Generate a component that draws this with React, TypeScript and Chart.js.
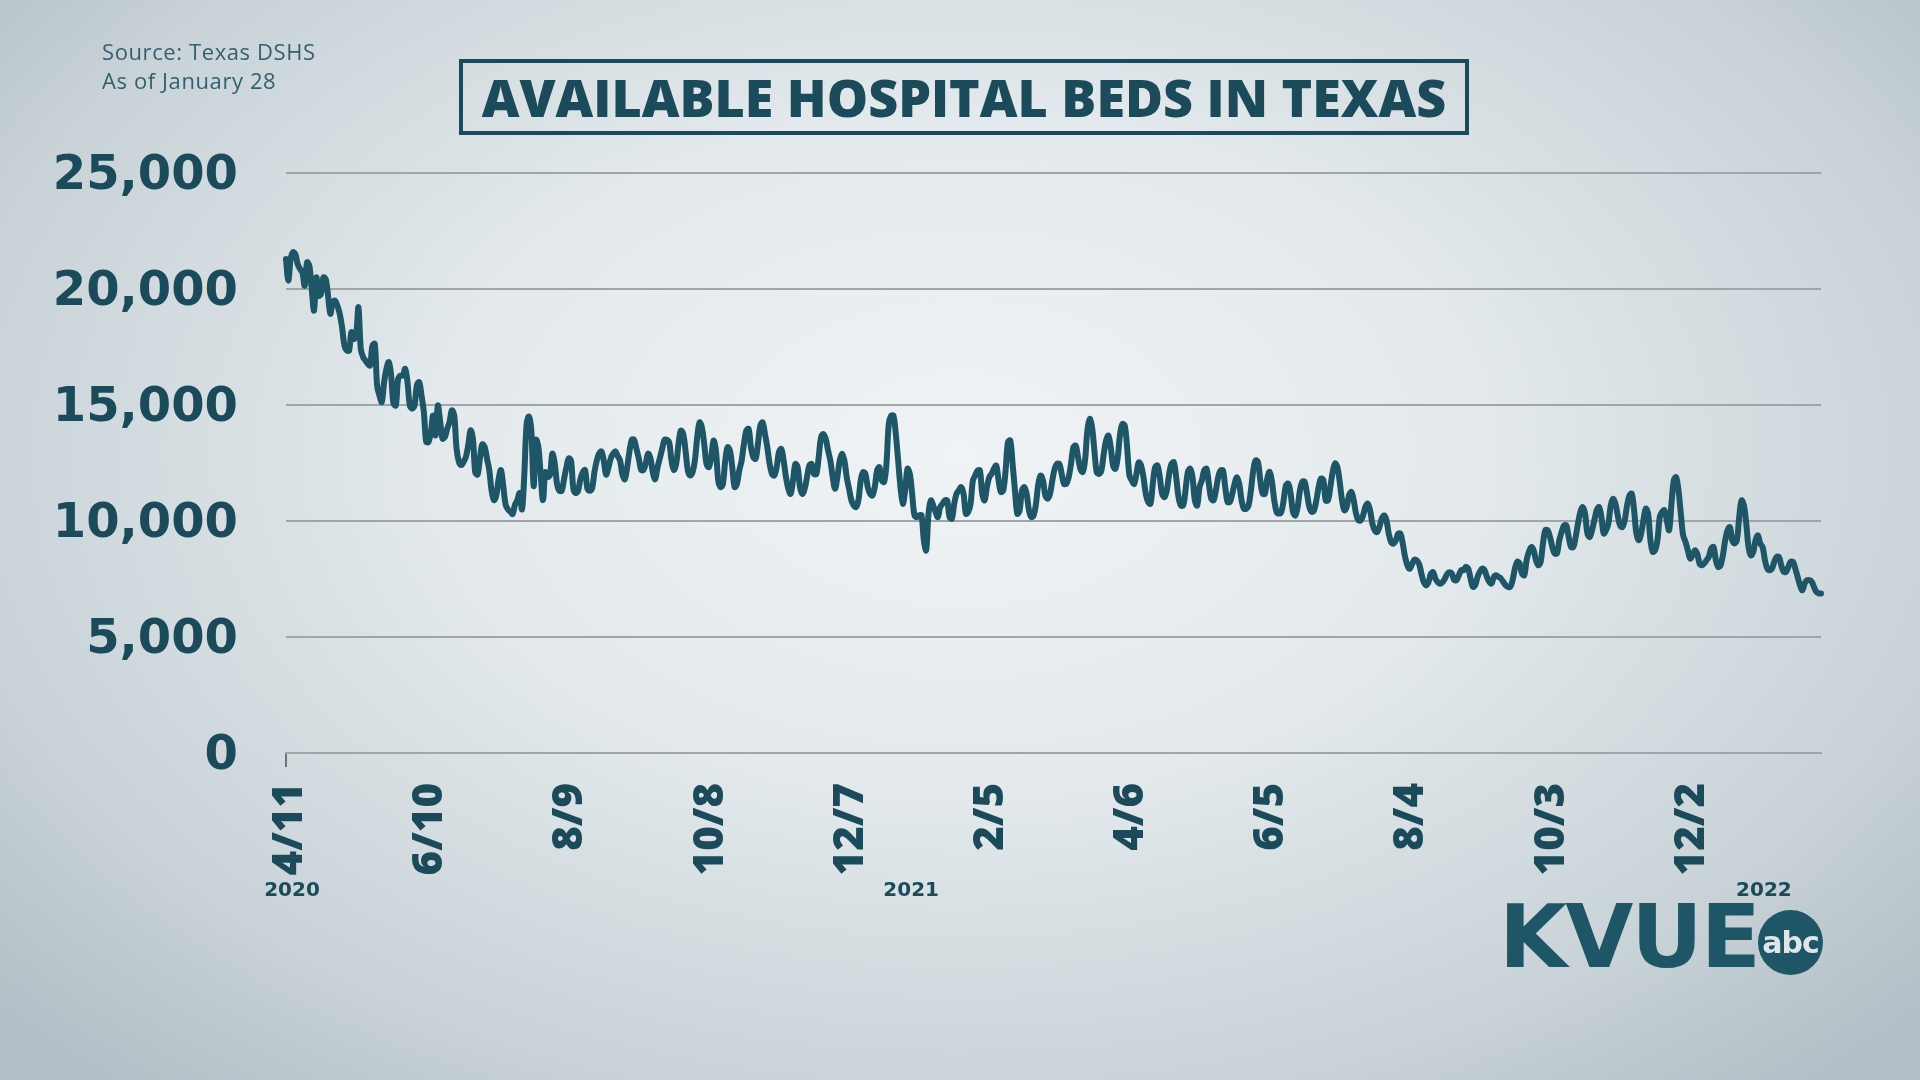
import React, { useEffect, useRef } from 'react';
import { Chart, registerables } from 'chart.js';

Chart.register(...registerables);

// Available hospital beds in Texas, daily from 4/11/2020 to 1/28/2022
const START_YEAR = 2020;
const START_MONTH = 3; // April (0-based)
const START_DAY = 11;

const BEDS_2020 = [
  21290, 20360, 21290, 21580, 21500, 21070, 20860, 20720, 20140, 21150,
  21000, 20000, 19070, 20500, 19710, 19790, 20500, 20430, 19710, 18930,
  19430, 19500, 19280, 18930, 18350, 17560, 17350, 17350, 18140, 17850,
  17990, 19210, 17420, 17060, 16920, 16780, 16700, 17560, 17640, 15840,
  15410, 15130, 15990, 16560, 16850, 16270, 15060, 14980, 16130, 16270,
  16270, 16560, 15990, 14980, 14840, 14980, 15840, 15990, 15410, 14700,
  13410, 13410, 13840, 14550, 13690, 14980, 14270, 13550, 13620, 13980,
  14270, 14770, 14550, 13120, 12550, 12410, 12550, 12760, 13270, 13910,
  13550, 12100, 12000, 12700, 13300, 13200, 12700, 12200, 11300, 10900,
  11100, 11800, 12200, 11500, 10700, 10500, 10400, 10300, 10700, 10900,
  11200, 10500, 12000, 14200, 14500, 13900, 11500, 13500, 13200, 12000,
  10900, 12100, 11900, 12000, 12900, 12500, 11600, 11300, 11300, 11800,
  12300, 12700, 12600, 11400, 11200, 11300, 11800, 12100, 12200, 11400,
  11300, 11400, 12100, 12600, 12900, 13000, 12600, 12000, 12300, 12700,
  12900, 13000, 12800, 12600, 12000, 11800, 12300, 13000, 13500, 13500,
  13100, 12700, 12200, 12200, 12500, 12900, 12700, 12100, 11800, 12300,
  12700, 13100, 13500, 13500, 13400, 12600, 12200, 12460, 13320, 13900,
  13750, 13040, 12180, 11960, 12100, 12600, 13600, 14250, 14040, 13320,
  12460, 12320, 12750, 13470, 13040, 11750, 11460, 11600, 12600, 13180,
  13040, 12320, 11460, 11600, 12180, 12600, 13320, 13900, 13970, 13180,
  12750, 12680, 13320, 14110, 14250, 13750, 13180, 12460, 12030, 11960,
  12320, 12970, 13110, 12600, 11890, 11390, 11170, 11750, 12460, 12320,
  11460, 11170, 11390, 11890, 12390, 12460, 12030, 12030, 12750, 13610,
  13750, 13540, 13040, 12600, 11890, 11390, 11890, 12600, 12900, 12600,
  11890, 11390, 10890, 10670, 10600, 10890, 11750, 12100, 12030, 11460,
  11170, 11100, 11460, 12180, 12320, 11750, 11680, 12460, 14180, 14540,
  14540, 13750, 12610, 11460, 10740,
];

const BEDS_2021 = [
  11320, 12250, 12030, 11170, 10240,
  10170, 10240, 10240, 9170, 8740, 10310, 10890, 10670, 10390, 10170,
  10600, 10740, 10890, 10890, 10170, 10100, 10740, 11170, 11320, 11460,
  11170, 10310, 10390, 10740, 11750, 11960, 12180, 12180, 11170, 10890,
  11460, 11890, 12030, 12250, 12390, 11750, 11250, 11320, 12180, 13400,
  13470, 12460, 11320, 10310, 10460, 11320, 11460, 11170, 10460, 10170,
  10240, 10740, 11600, 11960, 11750, 11100, 10960, 11170, 11750, 12250,
  12460, 12460, 12030, 11600, 11600, 11890, 12460, 13180, 13250, 12750,
  12250, 12110, 12610, 13900, 14400, 14040, 13040, 12110, 12030, 12180,
  12890, 13470, 13680, 13180, 12390, 12250, 12750, 13750, 14180, 14110,
  13180, 11960, 11750, 11600, 12030, 12530, 12390, 11890, 11170, 10820,
  10740, 11600, 12320, 12390, 11890, 11170, 11030, 11320, 12030, 12460,
  12530, 11890, 11030, 10670, 10670, 11320, 12110, 12250, 11890, 10890,
  10670, 11460, 11750, 12180, 12250, 11600, 10960, 10890, 11320, 11890,
  12180, 12180, 11460, 10820, 10820, 11170, 11600, 11890, 11600, 10890,
  10530, 10530, 10670, 11320, 12180, 12610, 12550, 11760, 11180, 11180,
  11830, 12120, 11690, 10890, 10390, 10320, 10390, 10890, 11540, 11610,
  11180, 10390, 10240, 10610, 11330, 11690, 11690, 11180, 10610, 10390,
  10460, 10890, 11470, 11830, 11760, 10890, 10890, 11470, 12120, 12480,
  12330, 11690, 10890, 10460, 10610, 11110, 11250, 10890, 10320, 10030,
  10030, 10240, 10610, 10750, 10460, 9880, 9600, 9520, 9740, 10100,
  10240, 10030, 9450, 9090, 9020, 9160, 9450, 9450, 9020, 8440,
  8080, 7940, 8150, 8330, 8300, 8150, 7720, 7360, 7220, 7360,
  7720, 7790, 7510, 7360, 7290, 7360, 7510, 7720, 7790, 7740,
  7450, 7450, 7660, 7880, 7880, 8020, 7950, 7520, 7160, 7230,
  7590, 7810, 7950, 7880, 7590, 7380, 7310, 7590, 7660, 7590,
  7520, 7380, 7230, 7160, 7160, 7450, 7950, 8240, 8170, 7740,
  7660, 8310, 8670, 8880, 8740, 8310, 8090, 8240, 9030, 9600,
  9600, 9310, 8880, 8600, 8600, 9170, 9530, 9810, 9810, 9310,
  8880, 8880, 9310, 9890, 10390, 10600, 10320, 9460, 9310, 9600,
  10030, 10460, 10600, 10170, 9460, 9600, 9890, 10670, 10960, 10750,
  10240, 9810, 9740, 10030, 10670, 11100, 11180, 10460, 9460, 9170,
  9460, 10030, 10530, 10320, 9170, 8670, 8740, 9170, 10170, 10390,
  10460, 10030, 9600, 10750, 11750, 11890, 11320, 10320, 9380, 9100,
  8740, 8380, 8520, 8740, 8600, 8170, 8090, 8170, 8310, 8450,
  8810, 8880, 8310, 8020, 8090, 8520, 9170, 9600, 9740, 9170,
  9030, 9170, 10170, 10890, 10670, 9890, 8880, 8520, 8670, 9170,
];

const BEDS_2022 = [
  9380, 9030, 8880, 8310, 7950, 7880, 7950, 8240, 8450, 8450,
  8090, 7810, 7810, 8020, 8240, 8240, 7950, 7590, 7230, 7020,
  7310, 7450, 7450, 7380, 7160, 6950, 6880, 6880,
];

const TICK_LABELS = ['4/11', '6/10', '8/9', '10/8', '12/7', '2/5', '4/6', '6/5', '8/4', '10/3', '12/2'];
const TICK_EVERY = 60;
const YEAR_LABELS = ['2020', '2021', '2022'];
const Y_MIN = 0;
const Y_MAX = 25000;
const Y_STEP = 5000;

const TITLE = 'AVAILABLE HOSPITAL BEDS IN TEXAS';
const SOURCE_LINES = ['Source: Texas DSHS', 'As of January 28'];

const BEDS = [...BEDS_2020, ...BEDS_2021, ...BEDS_2022];
const DATES = BEDS.map((_, i) => {
  const dt = new Date(Date.UTC(START_YEAR, START_MONTH, START_DAY + i));
  return `${dt.getUTCMonth() + 1}/${dt.getUTCDate()}`;
});
const YEAR_INDEX = [0, ...DATES.map((l, i) => (l === '1/1' ? i : -1)).filter((i) => i >= 0)];

const TEAL = '#1b4b5b';
const LINE = '#1e5567';
const GRID = '#a0a5a9';

const yearLabelPlugin = {
  id: 'yearLabels',
  afterDraw(chart: any) {
    const { ctx, scales, chartArea } = chart;
    const xs = scales.x;
    ctx.save();
    ctx.fillStyle = TEAL;
    ctx.font = 'bold 20px "DejaVu Sans", sans-serif';
    ctx.textAlign = 'center';
    ctx.textBaseline = 'middle';
    YEAR_LABELS.forEach((lab, k) => {
      const idx = YEAR_INDEX[k];
      if (idx === undefined) return;
      ctx.fillText(lab, xs.getPixelForValue(idx) + 6, chartArea.bottom + 138);
    });
    ctx.restore();
  },
};

export default function App() {
  const ref = useRef<HTMLCanvasElement | null>(null);

  useEffect(() => {
    document.body.style.margin = '0';
    const canvas = ref.current;
    if (!canvas) return;
    const chart = new Chart(canvas, {
      type: 'line',
      data: {
        labels: DATES,
        datasets: [
          {
            data: BEDS,
            borderColor: LINE,
            borderWidth: 6,
            pointRadius: 0,
            tension: 0.35,
            fill: false,
            borderJoinStyle: 'round',
            borderCapStyle: 'round',
          },
        ],
      },
      options: {
        animation: false,
        responsive: false,
        devicePixelRatio: 1,
        layout: { padding: { top: 173, right: 99, left: 0, bottom: 0 } },
        plugins: { legend: { display: false }, tooltip: { enabled: false } },
        scales: {
          x: {
            type: 'category',
            offset: false,
            grid: {
              display: true,
              drawOnChartArea: false,
              drawTicks: true,
              tickLength: 14,
              lineWidth: 2,
              color: (c: any) => (c.index % TICK_EVERY === 0 ? '#6d767b' : 'rgba(0,0,0,0)'),
            },
            border: { display: true, color: GRID, width: 2 },
            ticks: {
              autoSkip: false,
              maxRotation: 90,
              minRotation: 90,
              padding: 16,
              labelOffset: 4,
              color: TEAL,
              font: { family: '"Open Sans", sans-serif', size: 42, weight: 800 },
              callback: (_v: any, i: number) => (i % TICK_EVERY === 0 ? TICK_LABELS[i / TICK_EVERY] : null),
            },
            afterFit: (s: any) => {
              s.height = 327;
            },
          },
          y: {
            min: Y_MIN,
            max: Y_MAX,
            ticks: {
              stepSize: Y_STEP,
              padding: 48,
              labelOffset: 4,
              color: TEAL,
              font: { family: '"DejaVu Sans", sans-serif', size: 48, weight: 'bold' },
              callback: (v: any) => Number(v).toLocaleString('en-US'),
            },
            grid: { color: GRID, lineWidth: 2, drawTicks: false },
            border: { display: false },
            afterFit: (s: any) => {
              s.width = 286;
            },
          },
        },
      },
      plugins: [yearLabelPlugin],
    } as any);
    return () => chart.destroy();
  }, []);

  return (
    <div
      style={{
        position: 'fixed',
        left: 0,
        top: 0,
        width: 1920,
        height: 1080,
        overflow: 'hidden',
        background:
          'radial-gradient(ellipse 68% 78% at 50% 42%, #f0f3f5 0%, #e3e9ec 40%, #c8d2d7 78%, #b1bec5 100%)',
      }}
    >
      <canvas ref={ref} width={1920} height={1080} style={{ position: 'absolute', left: 0, top: 0, width: 1920, height: 1080 }} />
      <div
        style={{
          position: 'absolute',
          left: 102,
          top: 37,
          fontFamily: '"Open Sans", sans-serif',
          fontSize: 22,
          letterSpacing: 0.6,
          lineHeight: '29px',
          color: '#33606f',
        }}
      >
        {SOURCE_LINES.map((s) => (
          <div key={s}>{s}</div>
        ))}
      </div>
      <div
        style={{
          position: 'absolute',
          left: 459,
          top: 59,
          width: 1010,
          height: 76,
          boxSizing: 'border-box',
          border: `4px solid ${TEAL}`,
          display: 'flex',
          alignItems: 'center',
          justifyContent: 'center',
          fontFamily: '"Open Sans", sans-serif',
          fontWeight: 800,
          fontSize: 52,
          lineHeight: 1,
          color: TEAL,
          whiteSpace: 'nowrap',
        }}
      >
        {TITLE}
      </div>
      <div
        style={{
          position: 'absolute',
          left: 1499,
          top: 893,
          fontFamily: '"DejaVu Sans", sans-serif',
          fontWeight: 700,
          fontSize: 88,
          lineHeight: 1,
          letterSpacing: -2,
          color: LINE,
        }}
      >
        KVUE
      </div>
      <div
        style={{
          position: 'absolute',
          left: 1758,
          top: 910,
          width: 65,
          height: 65,
          borderRadius: '50%',
          background: LINE,
          display: 'flex',
          alignItems: 'center',
          justifyContent: 'center',
          fontFamily: '"DejaVu Sans", sans-serif',
          fontWeight: 700,
          fontSize: 30,
          letterSpacing: -1,
          color: '#dfe6ea',
          lineHeight: 1,
        }}
      >
        abc
      </div>
    </div>
  );
}
